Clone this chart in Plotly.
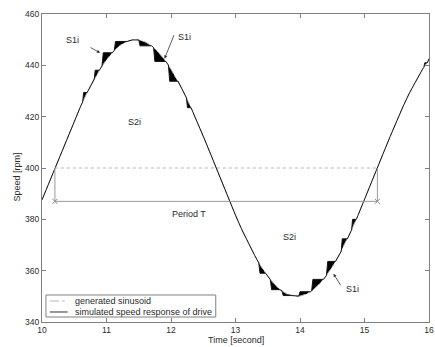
import plotly.graph_objects as go

# ---------------- data ----------------
# generated sinusoid (time [s], speed [rpm])
t_ref = [10.0, 10.1, 10.2, 10.3, 10.4, 10.5, 10.6, 10.7, 10.8, 10.9,
         11.0, 11.1, 11.2, 11.3, 11.4, 11.45, 11.5, 11.6, 11.7, 11.8, 11.9,
         12.0, 12.1, 12.2, 12.3, 12.4, 12.5, 12.6, 12.7, 12.8, 12.9,
         13.0, 13.1, 13.2, 13.3, 13.4, 13.5, 13.6, 13.7, 13.8, 13.9, 13.95,
         14.0, 14.1, 14.2, 14.3, 14.4, 14.5, 14.6, 14.7, 14.8, 14.9,
         15.0, 15.1, 15.2, 15.3, 15.4, 15.5, 15.6, 15.7, 15.8, 15.9, 16.0]
v_ref = [387.6, 393.7, 400.0, 406.3, 412.4, 418.4, 424.1, 429.4, 434.2, 438.5,
         442.2, 445.2, 447.6, 449.1, 449.9, 450.0, 449.9, 449.1, 447.6, 445.2, 442.2,
         438.5, 434.2, 429.4, 424.1, 418.4, 412.4, 406.3, 400.0, 393.7, 387.6,
         381.6, 375.9, 370.6, 365.8, 361.5, 357.8, 354.8, 352.4, 350.9, 350.1, 350.0,
         350.1, 350.9, 352.4, 354.8, 357.8, 361.5, 365.8, 370.6, 375.9, 381.6,
         387.6, 393.7, 400.0, 406.3, 412.4, 418.4, 424.1, 429.4, 434.2, 438.5, 442.2]

# simulated speed response of drive (polyline vertices)
t_sim = [10.0, 10.2, 10.4, 10.6,
         10.63, 10.645, 10.70,
         10.81, 10.825, 10.89,
         10.93, 10.95, 11.09,
         11.12, 11.14, 11.32,
         11.40, 11.45, 11.50,
         11.52, 11.70,
         11.73, 11.75, 11.92,
         11.96, 11.98, 12.11,
         12.24, 12.255, 12.31,
         12.4, 12.5, 12.6, 12.7, 12.8, 12.9, 13.0, 13.1, 13.2, 13.3,
         13.36, 13.38, 13.466,
         13.54, 13.56, 13.69,
         13.72, 13.74, 13.863,
         13.95,
         13.98, 14.0, 14.165,
         14.18, 14.20, 14.363,
         14.41, 14.43, 14.551,
         14.64, 14.655, 14.735,
         14.80, 14.815, 14.873,
         14.9, 15.0, 15.1, 15.2, 15.3, 15.4, 15.5, 15.6, 15.7, 15.8, 15.9,
         15.92, 15.935, 15.975, 16.0]
v_sim = [387.6, 400.0, 412.4, 424.1,
         425.7, 429.4, 429.4,
         434.7, 438.1, 438.1,
         439.7, 444.9, 444.9,
         445.8, 449.3, 449.3,
         449.9, 450.0, 449.9,
         447.6, 447.6,
         446.9, 441.5, 441.5,
         440.1, 433.8, 433.8,
         427.3, 423.5, 423.5,
         418.4, 412.4, 406.3, 400.0, 393.7, 387.6, 381.6, 375.9, 370.6, 365.8,
         363.1, 359.0, 359.0,
         356.5, 352.6, 352.6,
         352.1, 350.3, 350.3,
         350.0,
         350.1, 351.8, 351.8,
         352.1, 356.6, 356.6,
         358.1, 363.6, 363.6,
         367.6, 372.4, 372.4,
         375.9, 380.0, 380.0,
         381.6, 387.6, 393.7, 400.0, 406.3, 412.4, 418.4, 424.1, 429.4, 434.2, 438.5,
         439.2, 441.0, 441.0, 442.6]

# period annotation
period_t = [10.2, 15.2]
mean_level = 400
period_level = 387

x_ticks = [10, 11, 12, 13, 14, 15, 16]
y_ticks = [340, 360, 380, 400, 420, 440, 460]

legend_names = ["generated sinusoid", "simulated speed response of drive"]

# labels: (text, x, y)
labels = [("S1i", 10.48, 449.9), ("S1i", 12.21, 451.1), ("S1i", 14.81, 353.0),
          ("S2i", 11.44, 418.1), ("S2i", 13.83, 373.2), ("Period T", 12.28, 382.1)]
# arrows: (head x, head y, tail dx px, tail dy px)
arrows = [(10.90, 444.9, -11, -6), (11.90, 442.6, 10, -25), (14.52, 358.8, 8, 13)]

FONT = "Liberation Sans, Arial, sans-serif"
TXT = "#2a2a2a"
AX = "#808080"

fig = go.Figure()

# sinusoid (also the base for the filled difference area)
fig.add_trace(go.Scatter(x=t_ref, y=v_ref, mode="lines",
                         line=dict(color="#b0b0b0", width=1, dash="dashdot"),
                         showlegend=False, hoverinfo="skip"))
# simulated response, area between it and the sinusoid filled black
fig.add_trace(go.Scatter(x=t_sim, y=v_sim, mode="lines", fill="tonexty",
                         fillcolor="#000000",
                         line=dict(color="#151515", width=1),
                         showlegend=False, hoverinfo="skip"))

# period construction
fig.add_trace(go.Scatter(x=period_t, y=[mean_level, mean_level], mode="lines",
                         line=dict(color="#b8b8b8", width=1, dash="dot"),
                         showlegend=False, hoverinfo="skip"))
for pt in period_t:
    fig.add_trace(go.Scatter(x=[pt, pt], y=[mean_level, period_level], mode="lines",
                             line=dict(color="#9a9a9a", width=1),
                             showlegend=False, hoverinfo="skip"))
fig.add_trace(go.Scatter(x=period_t, y=[period_level, period_level], mode="lines+markers",
                         line=dict(color="#9a9a9a", width=1),
                         marker=dict(symbol="x-thin", size=5,
                                     line=dict(color="#8a8a8a", width=1)),
                         showlegend=False, hoverinfo="skip"))

annotations = []
for txt, x, y in labels:
    annotations.append(dict(x=x, y=y, xref="x", yref="y", text=txt, showarrow=False,
                            font=dict(family=FONT, size=9, color=TXT),
                            xanchor="center", yanchor="middle"))
for hx, hy, dx, dy in arrows:
    annotations.append(dict(x=hx, y=hy, xref="x", yref="y", text="", showarrow=True,
                            ax=dx, ay=dy, arrowhead=2, arrowsize=0.8, arrowwidth=0.8,
                            arrowcolor="#333333"))

# axis titles
annotations.append(dict(x=0.5, y=-0.060, xref="paper", yref="paper", text="Time [second]",
                        showarrow=False, font=dict(family=FONT, size=9, color=TXT),
                        xanchor="center", yanchor="middle"))
annotations.append(dict(x=-0.064, y=0.47, xref="paper", yref="paper", text="Speed [rpm]",
                        showarrow=False, textangle=-90,
                        font=dict(family=FONT, size=9, color=TXT),
                        xanchor="center", yanchor="middle"))

# manual legend (MATLAB style)
shapes = [dict(type="rect", xref="paper", yref="paper", x0=0.0102, x1=0.449,
               y0=0.0162, y1=0.0877, line=dict(color=AX, width=1), fillcolor="white",
               layer="above")]
legend_styles = [dict(color="#b8b8b8", width=1, dash="dashdot"),
                 dict(color="#333333", width=1)]
legend_rows = [0.0682, 0.0325]
for name, st, yy in zip(legend_names, legend_styles, legend_rows):
    shapes.append(dict(type="line", xref="paper", yref="paper", x0=0.0204, x1=0.0663,
                       y0=yy, y1=yy, line=st, layer="above"))
    annotations.append(dict(x=0.0791, y=yy, xref="paper", yref="paper", text=name,
                            showarrow=False, font=dict(family=FONT, size=9, color=TXT),
                            xanchor="left", yanchor="middle"))

axis_common = dict(showgrid=False, zeroline=False, showline=True, linecolor=AX,
                   linewidth=1, mirror="ticks", ticks="inside", ticklen=4,
                   tickcolor=AX, tickwidth=1,
                   tickfont=dict(family=FONT, size=8.5, color=TXT))

fig.update_layout(
    width=435, height=347,
    margin=dict(l=42, r=1, t=14, b=25),
    paper_bgcolor="white", plot_bgcolor="white",
    showlegend=False,
    xaxis=dict(range=[10, 16], tickvals=x_ticks, ticktext=[str(v) for v in x_ticks],
               ticklabeloverflow="allow", **axis_common),
    yaxis=dict(range=[340, 460], tickvals=y_ticks, ticktext=[str(v) for v in y_ticks],
               **axis_common),
    annotations=annotations,
    shapes=shapes,
)

fig.write_html("out.html",
               config={"displayModeBar": False, "staticPlot": True},
               post_script="document.body.style.margin='0px';document.body.style.overflow='hidden';")
